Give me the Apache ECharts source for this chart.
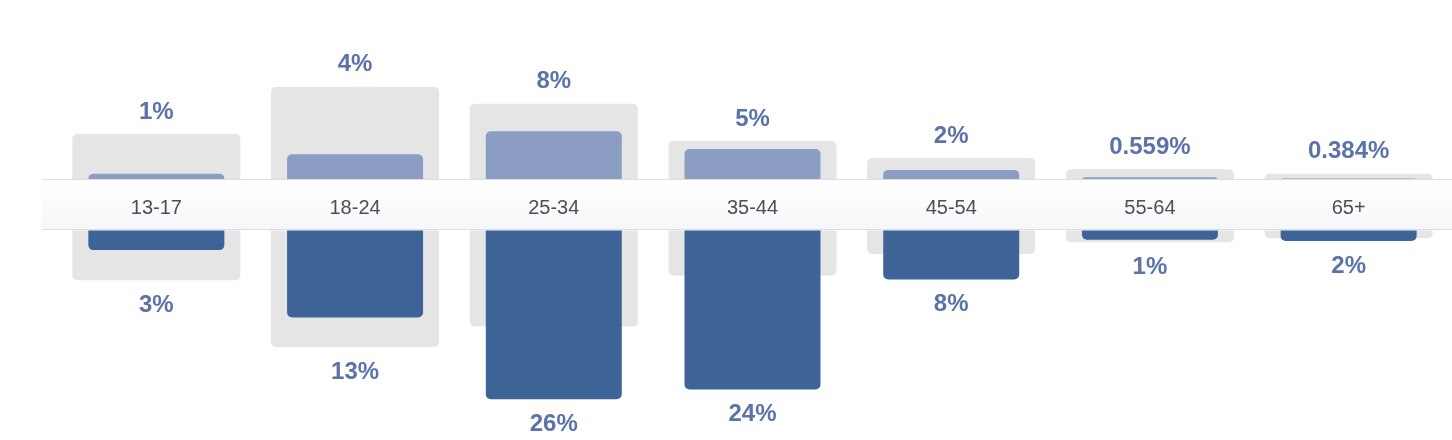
<!DOCTYPE html>
<html>
<head>
<meta charset="utf-8">
<script src="https://cdn.jsdelivr.net/npm/echarts@6/dist/echarts.min.js"></script>
<style>
html,body{margin:0;padding:0;background:#fff;}
#chart{width:1452px;height:440px;}
</style>
</head>
<body>
<div id="chart"></div>
<script>
// Age groups
var categories = ['13-17', '18-24', '25-34', '35-44', '45-54', '55-64', '65+'];
// Upper half (light blue bars) and its comparison boxes, in %
var upperValues = [1.1, 4.1, 7.6, 4.9, 1.7, 0.559, 0.384];
var upperCompare = [7.2, 14.4, 11.8, 6.1, 3.5, 1.8, 1.1];
// Lower half (dark blue bars) and its comparison boxes, in %
var lowerValues = [3.0, 13.3, 25.8, 24.3, 7.5, 1.4, 1.6];
var lowerCompare = [7.6, 17.8, 14.7, 6.9, 3.6, 1.8, 1.2];
var axisMax = 26;

function fmt(v) {
  return v >= 1 ? Math.round(v) + '%' : v.toFixed(3) + '%';
}

var chart = echarts.init(document.getElementById('chart'), null, {renderer: 'canvas'});

var GRID_LEFT = 57, GRID_RIGHT = 4;
var labelStyle = {
  fontFamily: '"Liberation Sans", Arial, Helvetica, sans-serif',
  fontSize: 24,
  fontWeight: 'bold',
  color: '#5b73a8'
};
var GRAY = '#e5e5e5', LIGHT = '#8b9dc3', DARK = '#3e6396';

function catAxis(gridIndex, position, showLabels) {
  return {
    type: 'category',
    gridIndex: gridIndex,
    position: position,
    data: categories,
    boundaryGap: true,
    z: 30,
    axisLine: {show: false},
    axisTick: {show: false},
    splitLine: {show: false},
    axisLabel: showLabels ? {
      show: true,
      margin: 17,
      fontFamily: '"Liberation Sans", Arial, Helvetica, sans-serif',
      fontSize: 20,
      color: '#4b4f56'
    } : {show: false}
  };
}
function valAxis(gridIndex, inverse) {
  return {
    type: 'value',
    gridIndex: gridIndex,
    min: 0,
    max: axisMax,
    inverse: inverse,
    show: false,
    splitLine: {show: false}
  };
}

var option = {
  animation: false,
  backgroundColor: '#ffffff',
  grid: [
    {left: GRID_LEFT, right: GRID_RIGHT, top: 11, bottom: 259},
    {left: GRID_LEFT, right: GRID_RIGHT, top: 230.5, bottom: 39.5}
  ],
  xAxis: [
    catAxis(0, 'bottom', false),
    catAxis(0, 'bottom', true),
    catAxis(1, 'top', false),
    catAxis(1, 'top', false)
  ],
  yAxis: [valAxis(0, false), valAxis(1, true)],
  graphic: [
    {
      type: 'rect',
      z: 20,
      shape: {x: 42, y: 179, width: 1410, height: 51},
      style: {
        fill: new echarts.graphic.LinearGradient(0, 0, 0, 1, [
          {offset: 0, color: '#ffffff'},
          {offset: 1, color: '#f6f7f9'}
        ]),
        stroke: null
      },
      silent: true
    },
    {
      type: 'line', z: 21, silent: true,
      shape: {x1: 42, y1: 179.5, x2: 1452, y2: 179.5},
      style: {stroke: '#dcdee2', lineWidth: 1}
    },
    {
      type: 'line', z: 21, silent: true,
      shape: {x1: 42, y1: 229.5, x2: 1452, y2: 229.5},
      style: {stroke: '#dcdee2', lineWidth: 1}
    }
  ],
  series: [
    {
      type: 'bar', name: 'upperCompare',
      xAxisIndex: 0, yAxisIndex: 0,
      data: upperCompare, barWidth: 168, z: 1,
      itemStyle: {color: GRAY, borderRadius: [5, 5, 0, 0]},
      label: Object.assign({
        show: true, position: 'top', distance: 10,
        formatter: function (p) { return fmt(upperValues[p.dataIndex]); }
      }, labelStyle)
    },
    {
      type: 'bar', name: 'upper',
      xAxisIndex: 1, yAxisIndex: 0,
      data: upperValues, barWidth: 136, z: 2,
      itemStyle: {color: LIGHT, borderRadius: [5, 5, 0, 0]}
    },
    {
      type: 'bar', name: 'lowerCompare',
      xAxisIndex: 2, yAxisIndex: 1,
      data: lowerCompare, barWidth: 168, z: 1,
      itemStyle: {color: GRAY, borderRadius: [0, 0, 5, 5]},
      label: Object.assign({
        show: true, position: 'bottom', distance: 13,
        formatter: function (p) {
          var i = p.dataIndex;
          return lowerCompare[i] >= lowerValues[i] ? fmt(lowerValues[i]) : '';
        }
      }, labelStyle)
    },
    {
      type: 'bar', name: 'lower',
      xAxisIndex: 3, yAxisIndex: 1,
      data: lowerValues, barWidth: 136, z: 2,
      itemStyle: {color: DARK, borderRadius: [0, 0, 5, 5]},
      label: Object.assign({
        show: true, position: 'bottom', distance: 13,
        formatter: function (p) {
          var i = p.dataIndex;
          return lowerValues[i] > lowerCompare[i] ? fmt(lowerValues[i]) : '';
        }
      }, labelStyle)
    }
  ]
};
chart.setOption(option);
</script>
</body>
</html>
